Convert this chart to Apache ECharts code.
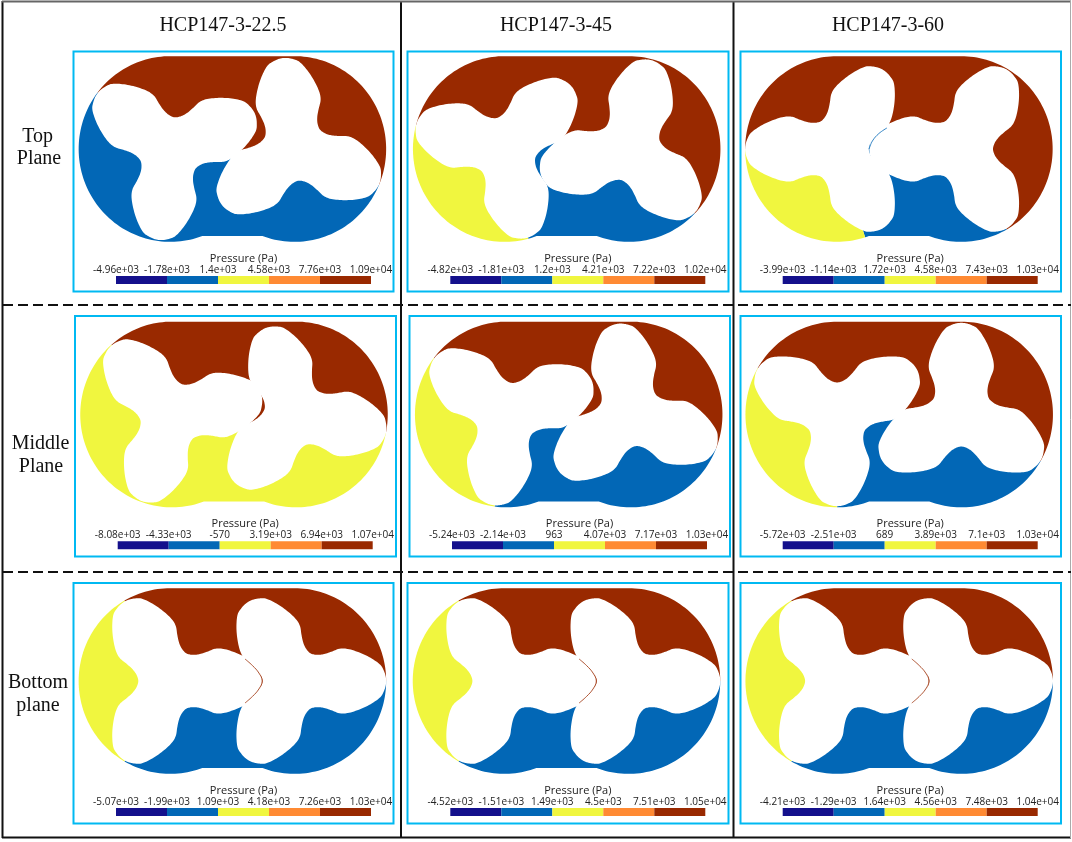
<!DOCTYPE html>
<html><head><meta charset="utf-8">
<style>html,body{margin:0;padding:0;background:#fff}#c{width:1072px;height:842px}</style>
<script src="https://cdn.jsdelivr.net/npm/echarts@6/dist/echarts.min.js"></script>
</head><body><div id="c"></div>
<script>
// ---------- DATA ----------
const columnTitles = ['HCP147-3-22.5', 'HCP147-3-45', 'HCP147-3-60'];
const rowTitles = [['Top', 'Plane'], ['Middle', 'Plane'], ['Bottom', 'plane']];
const legendTitle = 'Pressure (Pa)';
const legendLabels = [
  ['-4.96e+03','-1.78e+03','1.4e+03','4.58e+03','7.76e+03','1.09e+04'],
  ['-4.82e+03','-1.81e+03','1.2e+03','4.21e+03','7.22e+03','1.02e+04'],
  ['-3.99e+03','-1.14e+03','1.72e+03','4.58e+03','7.43e+03','1.03e+04'],
  ['-8.08e+03','-4.33e+03','-570','3.19e+03','6.94e+03','1.07e+04'],
  ['-5.24e+03','-2.14e+03','963','4.07e+03','7.17e+03','1.03e+04'],
  ['-5.72e+03','-2.51e+03','689','3.89e+03','7.1e+03','1.03e+04'],
  ['-5.07e+03','-1.99e+03','1.09e+03','4.18e+03','7.26e+03','1.03e+04'],
  ['-4.52e+03','-1.51e+03','1.49e+03','4.5e+03','7.51e+03','1.05e+04'],
  ['-4.21e+03','-1.29e+03','1.64e+03','4.56e+03','7.48e+03','1.04e+04']
];
// rotor rotation of each panel (degrees): left rotor +, right rotor -
const rotorTurn = [22.5, 44, 60, 11.25, 21.5, 30, 0, 0, 0];
// half-lobe outline of one rotor: [angle from tip in degrees, radius]
const lobeProfile = [[0,91.7],[3,91.3],[6,90.2],[10,88],[16,80.7],[24,70.5],[32,61],[35.8,55],[38.5,47],[43,39.2],[50,34.2],[60,32]];
// where the rotors mesh in each panel
const meshPoint = [[5.6,-6],[-6.7,7.3],[-12,21],[4,-15],[4.6,-3.8],[1,0.5],[12.6,-22],[12.6,-22],[12.6,-22]];
// thin film of fluid left between the rotors: colour index and its path
const brownFilm = [[12.6,22],[20,15.5],[26.5,8],[29.8,0],[26.5,-8],[20,-15.5],[12.6,-22]];
const blueFilm = [[-12,21],[-20,15.5],[-26.5,8],[-29.8,0]];
const filmOfPanel = [null,null,[1,blueFilm],null,null,null,[4,brownFilm],[4,brownFilm],[4,brownFilm]];
// chamber left of the rotors: [colour index, from angle, to angle] on the left rotor; null = same as the lower fill
const leftChamber = [null,[2,165,285],[2,180,288],null,[2,142.5,262.5],[2,150,270],[2,120,240],[2,120,240],[2,120,240]];
// colour index of the lower chamber, and the angles on the left and right rotor that bound the top chamber
const lowerFill = [1,1,1,2,1,1,1,1,1];
const topBounds = [[142.5,-22.5],[165,-44],[180,-60],[131.25,-11.25],[142.5,-21.5],[150,-30],[120,0],[120,0],[120,0]];
const colourBands = [[0,1,0],[1,2,1],[2,3,2],[3,4,3],[4,5,4]];
const palette = ['#14108C','#0267B6','#F0F63F','#FF8A33','#992900'];
// ---------- LAYOUT ----------
const frameBoxes = [
 [73.5,51.5,393.5,291.5],[407.5,51.5,728.5,291.5],[740.5,51.5,1061,291.5],
 [75,316,396,556.5],[409.5,316,730,556.5],[740.5,316,1061,556.5],
 [73.5,583,393.5,823.5],[407.5,583,728.5,823.5],[740.5,583,1061,823.5]];
const casingCentres = [[232.4,149],[566.7,149],[898.9,149],[234,414.5],[568.7,414.5],[899.2,414.5],[232.4,681],[566.5,681],[899.2,681]];
const barBoxes = [[116,276],[450.3,276],[782.7,276],[117.7,541.3],[452,541.3],[782.7,541.3],[116,808],[450.3,808],[782.7,808]];
const barW = 255, barH = 8;
const centreOff = 62.1, casingRx = 91.65, casingRy = 92.85, notchY = 87;

const rad = d => d * Math.PI / 180;
function rotorKnots(cx, turn) {
  const half = lobeProfile, pts = [];
  for (let k = 0; k < 3; k++) {
    const base = turn + k * 120;
    for (const p of half) pts.push([cx + p[1] * Math.cos(rad(base + p[0])), p[1] * Math.sin(rad(base + p[0]))]);
    for (let i = half.length - 2; i > 0; i--) {
      const p = half[i];
      pts.push([cx + p[1] * Math.cos(rad(base + 120 - p[0])), p[1] * Math.sin(rad(base + 120 - p[0]))]);
    }
  }
  return pts;
}
// centripetal Catmull-Rom through the knots
function smoothClosed(P) {
  const out = [], n = P.length, d = (a, b) => Math.sqrt(Math.hypot(a[0] - b[0], a[1] - b[1])) || 1e-3;
  for (let i = 0; i < n; i++) {
    const p0 = P[(i + n - 1) % n], p1 = P[i], p2 = P[(i + 1) % n], p3 = P[(i + 2) % n];
    const t01 = d(p0, p1), t12 = d(p1, p2), t23 = d(p2, p3);
    for (let s = 0; s < 8; s++) {
      const u = s / 8, t = u * t12;
      const L = (a, b, ta, tb, tt) => [0, 1].map(j => a[j] * (tb - tt) / (tb - ta) + b[j] * (tt - ta) / (tb - ta));
      const A1 = L(p0, p1, -t01, 0, t), A2 = L(p1, p2, 0, t12, t), A3 = L(p2, p3, t12, t12 + t23, t);
      const B1 = L(A1, A2, -t01, t12, t), B2 = L(A2, A3, 0, t12 + t23, t);
      out.push(L(B1, B2, 0, t12, t));
    }
  }
  return out;
}
const onCasing = (cx, a) => [cx + casingRx * Math.cos(rad(a)), casingRy * Math.sin(rad(a))];
function arc(cx, a0, a1) {
  const n = Math.max(2, Math.ceil(Math.abs(a1 - a0) / 2)), out = [];
  for (let i = 0; i <= n; i++) out.push(onCasing(cx, a0 + (a1 - a0) * i / n));
  return out;
}
const cut = Math.asin(notchY / casingRy) * 180 / Math.PI;
function topRegion(i) {
  const [a, b] = topBounds[i];
  return [...arc(-centreOff, a, 90), ...arc(centreOff, 90, b), [centreOff, 0], meshPoint[i], [-centreOff, 0]];
}
function wedge(w) { return [[-centreOff, 0], ...arc(-centreOff, w[1], w[2])]; }
function lowerRegion(i) {
  const start = leftChamber[i] ? leftChamber[i][2] : topBounds[i][0];
  const end = 360 + topBounds[i][1];
  const left = start < 360 - cut ? arc(-centreOff, start, 360 - cut) : [];
  return [[-centreOff, 0], ...left, ...arc(centreOff, 180 + cut, end), [centreOff, 0], meshPoint[i]];
}
// ---------- OPTION ----------
const grids = [], xAxes = [], yAxes = [], series = [], graphics = [];
frameBoxes.forEach((f, i) => {
  const c = casingCentres[i];
  grids.push({ left: f[0], top: f[1], width: f[2] - f[0], height: f[3] - f[1], show: true, borderColor: '#00B9F2', borderWidth: 2, backgroundColor: 'transparent' });
  xAxes.push({ gridIndex: grids.length - 1, type: 'value', show: false, min: f[0] - c[0], max: f[2] - c[0] });
  yAxes.push({ gridIndex: grids.length - 1, type: 'value', show: false, min: c[1] - f[3], max: c[1] - f[1] });
  const shapes = [{ pts: lowerRegion(i), color: palette[lowerFill[i]] }];
  if (leftChamber[i]) shapes.push({ pts: wedge(leftChamber[i]), color: palette[leftChamber[i][0]] });
  shapes.push({ pts: topRegion(i), color: palette[4] });
  shapes.push({ pts: smoothClosed(rotorKnots(-centreOff, rotorTurn[i])), color: '#fff' });
  shapes.push({ pts: smoothClosed(rotorKnots(centreOff, -rotorTurn[i])), color: '#fff' });
  if (filmOfPanel[i]) shapes.push({ pts: filmOfPanel[i][1], line: palette[filmOfPanel[i][0]] });
  series.push({
    type: 'custom', coordinateSystem: 'cartesian2d', xAxisIndex: grids.length - 1, yAxisIndex: grids.length - 1,
    silent: true, animation: false, clip: false,
    data: shapes.map((s, k) => [0, 0, k]),
    renderItem: (params, api) => {
      const s = shapes[api.value(2)];
      const points = s.pts.map(p => api.coord(p));
      if (s.line) return { type: 'polyline', shape: { points, smooth: 0.4 }, style: { fill: null, stroke: s.line, lineWidth: 0.8 } };
      return { type: 'polygon', shape: { points }, style: { fill: s.color, stroke: null } };
    }
  });
});
barBoxes.forEach((b, i) => {
  grids.push({ left: b[0], top: b[1], width: barW, height: barH, show: false });
  xAxes.push({
    gridIndex: grids.length - 1, type: 'category', position: 'top', boundaryGap: false, data: legendLabels[i],
    axisLine: { show: false }, axisTick: { show: false },
    axisLabel: { interval: 0, margin: 1, hideOverlap: false, color: '#222', fontSize: 10, fontFamily: 'Open Sans' },
    name: legendTitle, nameLocation: 'middle', nameGap: 12,
    nameTextStyle: { color: '#222', fontSize: 11, fontFamily: 'Open Sans' }
  });
  yAxes.push({ gridIndex: grids.length - 1, type: 'value', show: false, min: 0, max: 1 });
  series.push({
    type: 'custom', coordinateSystem: 'cartesian2d', xAxisIndex: grids.length - 1, yAxisIndex: grids.length - 1,
    silent: true, animation: false, clip: false,
    encode: { x: 0, y: 3 },
    data: colourBands.map(c => [c[0], c[1], c[2], 0]),
    renderItem: (params, api) => {
      const a = api.coord([api.value(0), 0]), b2 = api.coord([api.value(1), 1]);
      return { type: 'rect', shape: { x: a[0], y: b2[1], width: b2[0] - a[0], height: a[1] - b2[1] }, style: { fill: palette[api.value(2)] } };
    }
  });
});
const serif = 'Liberation Serif';
const text = (t, x, y) => ({ type: 'text', x, y, silent: true, style: { text: t, font: '20px "' + serif + '"', fill: '#111', textAlign: 'center', textVerticalAlign: 'middle' } });
const line = (x1, y1, x2, y2, w, dash, col) => ({ type: 'line', silent: true, shape: { x1, y1, x2, y2 }, style: { stroke: col || '#111', lineWidth: w, lineDash: dash || null } });
[223, 556, 888].forEach((x, i) => graphics.push(text(columnTitles[i], x, 26)));
[[37.7,137],[39,159],[40.6,444],[41,467],[38,683],[38,706]].forEach((p, i) => graphics.push(text(rowTitles[Math.floor(i / 2)][i % 2], p[0], p[1])));
graphics.push(line(2.5, 1, 2.5, 838, 2), line(401, 1, 401, 838, 2), line(733.5, 1, 733.5, 838, 2),
  line(2, 1.5, 1071, 1.5, 2, null, '#666'), line(2, 837.5, 1071, 837.5, 2), line(1070.5, 1, 1070.5, 838, 1, null, '#aaa'),
  line(3, 305, 1071, 305, 2, [10, 5]), line(3, 572, 1071, 572, 2, [10, 5]));
echarts.init(document.getElementById('c'), null, { renderer: 'canvas' }).setOption({
  animation: false, backgroundColor: '#fff', grid: grids, xAxis: xAxes, yAxis: yAxes, series, graphic: graphics
});
</script></body></html>
